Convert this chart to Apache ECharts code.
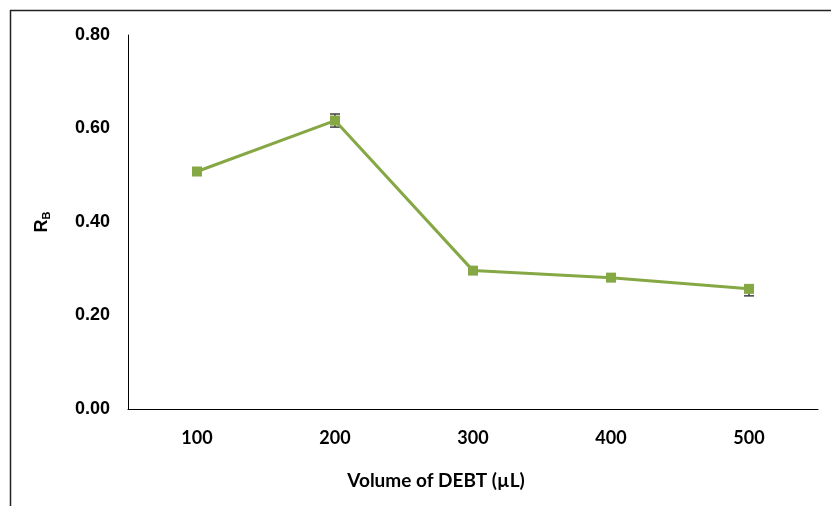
<!DOCTYPE html>
<html><head><meta charset="utf-8">
<script src="https://cdn.jsdelivr.net/npm/echarts@6/dist/echarts.min.js"></script>
<style>html,body{margin:0;padding:0;background:#fff}#c{width:831px;height:506px}</style>
</head><body><div id="c"></div>
<script>
const categories = ['100', '200', '300', '400', '500'];
const rbValues = [0.508, 0.617, 0.296, 0.281, 0.257];
const rbErrLow = [0.004, 0.014, 0.005, 0.004, 0.015];
const rbErrHigh = [0.004, 0.014, 0.005, 0.004, 0.004];
const yTicks = [0, 0.2, 0.4, 0.6, 0.8];

const green = '#86a844';
const chart = echarts.init(document.getElementById('c'));
const errData = categories.map((c, i) => [i, rbValues[i] - rbErrLow[i], rbValues[i] + rbErrHigh[i]]);
chart.setOption({
  animation: false,
  backgroundColor: '#fff',
  graphic: [
    { type: 'line', shape: { x1: 10.5, y1: 10, x2: 10.5, y2: 506 }, style: { stroke: '#222', lineWidth: 1.5 } },
    { type: 'line', shape: { x1: 10, y1: 10.5, x2: 831, y2: 10.5 }, style: { stroke: '#222', lineWidth: 1.5 } }
  ],
  grid: { left: 128, right: 13, top: 35, bottom: 97 },
  xAxis: {
    type: 'category', data: categories, boundaryGap: true,
    axisLine: { lineStyle: { color: '#000', width: 1 } },
    axisTick: { show: false },
    axisLabel: { color: '#000', fontFamily: 'Lato', fontWeight: 'bold', fontSize: 18, margin: 20 },
    name: 'Volume of DEBT (µL)', nameLocation: 'middle', nameGap: 62,
    nameTextStyle: { color: '#000', fontFamily: 'Lato', fontWeight: 'bold', fontSize: 19, padding: [0, 74, 0, 0] }
  },
  yAxis: {
    type: 'value', min: 0, max: 0.8, interval: 0.2,
    axisLine: { show: true, lineStyle: { color: '#000', width: 1 } },
    axisTick: { show: false },
    splitLine: { show: false },
    axisLabel: { color: '#000', fontFamily: 'Liberation Sans', fontWeight: 'bold', fontSize: 18, margin: 18,
      formatter: v => v.toFixed(2) },
    name: '{r|R}{s|B}', nameLocation: 'middle', nameGap: 76, nameRotate: 90,
    nameTextStyle: { rich: {
      r: { color: '#000', fontFamily: 'Liberation Sans', fontWeight: 'bold', fontSize: 18 },
      s: { color: '#000', fontFamily: 'Liberation Sans', fontWeight: 'bold', fontSize: 11, verticalAlign: 'bottom', padding: [9, 0, 0, 0] }
    } }
  },
  series: [
    {
      type: 'line', data: rbValues, symbol: 'rect', symbolSize: 10,
      lineStyle: { color: green, width: 3 }, itemStyle: { color: green }, z: 3
    },
    {
      type: 'custom', data: errData, z: 2,
      renderItem: (params, api) => {
        const x = api.coord([api.value(0), api.value(1)])[0];
        const lo = api.coord([api.value(0), api.value(1)])[1];
        const hi = api.coord([api.value(0), api.value(2)])[1];
        const st = { stroke: '#404040', lineWidth: 1.5 };
        return { type: 'group', children: [
          { type: 'line', shape: { x1: x, y1: lo, x2: x, y2: hi }, style: st },
          { type: 'line', shape: { x1: x - 5, y1: lo, x2: x + 5, y2: lo }, style: st },
          { type: 'line', shape: { x1: x - 5, y1: hi, x2: x + 5, y2: hi }, style: st }
        ] };
      }
    }
  ]
});
</script></body></html>
